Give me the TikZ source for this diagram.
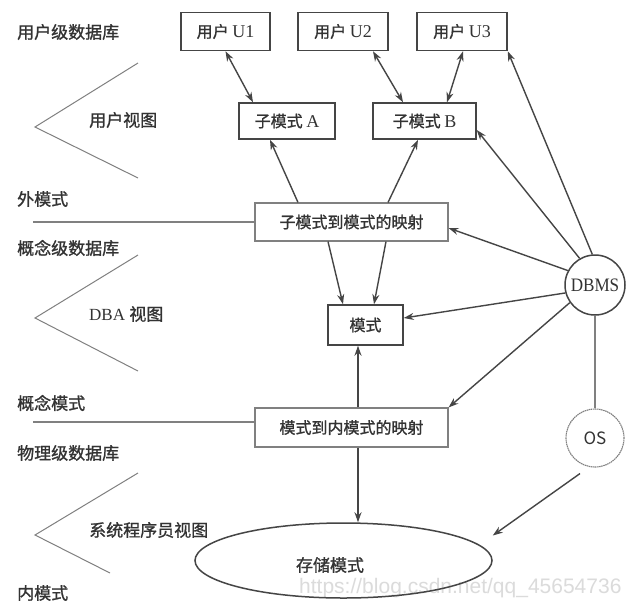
\documentclass[tikz,border=0pt]{standalone}
\usepackage{fontspec}
\setmainfont{Liberation Serif}
\newfontfamily\zh[FakeBold=1.2]{Noto Sans CJK SC}
\newfontfamily\zhr{Noto Sans CJK SC}
\newfontfamily\wm{Liberation Sans}
\usetikzlibrary{arrows.meta,calc,shapes.geometric}
\definecolor{ink}{HTML}{333333}
\definecolor{ln}{HTML}{454545}
\definecolor{lite}{HTML}{808080}
\newcommand{\lat}[1]{{\rmfamily\fontsize{18}{20}\selectfont #1}}
\begin{document}
\begin{tikzpicture}[x=1pt,y=-1pt,
  every node/.style={text=ink,font=\zh\fontsize{16}{18}\selectfont},
  boxn/.style={draw=ln,line width=1.5pt,rectangle,inner sep=0pt,minimum height=38pt},
  mapn/.style={draw=lite,line width=1.1pt,rectangle,inner sep=0pt,minimum width=193pt,minimum height=38pt},
  lbl/.style={anchor=west,inner sep=0pt,font=\zh\fontsize{17}{19}\selectfont},
  arr/.style={draw=ln,line width=1.4pt,-{Stealth[length=10pt,width=7pt]}},
  darr/.style={draw=ln,line width=1.4pt,{Stealth[length=10pt,width=7pt]}-{Stealth[length=10pt,width=7pt]}},
  chev/.style={draw=lite,line width=1pt},
  sep/.style={draw=lite,line width=1.1pt}]
\useasboundingbox[fill=white] (0,0) rectangle (640,614);

% watermark
\node[text=black!14,font=\wm\fontsize{21}{23}\selectfont,anchor=west,inner sep=0pt] (wmk) at (299,588) {https://blog.csdn.net/qq\_45654736};

% top boxes
\node[boxn,minimum width=89pt] (U1) at (225.5,31.5) {用户 \lat{U1}};
\node[boxn,minimum width=90pt] (U2) at (343,31.5) {用户 \lat{U2}};
\node[boxn,minimum width=90pt] (U3) at (462,31.5) {用户 \lat{U3}};
\node[boxn,minimum width=96pt,minimum height=36pt] (A) at (287,121) {子模式 \lat{A}};
\node[boxn,minimum width=103pt,minimum height=36pt] (B) at (424.5,121) {子模式 \lat{B}};
\node[mapn] (M1) at (351.5,222) {子模式到模式的映射};
\node[boxn,minimum width=75pt,minimum height=40pt] (P) at (365.5,325) {模式};
\node[mapn,minimum height=39pt] (M2) at (351.5,427.5) {模式到内模式的映射};
\node[draw=ln,line width=1.5pt,ellipse,minimum width=297pt,minimum height=75pt,inner sep=0pt] (E) at (343.5,560.5) {};
\node[inner sep=0pt,font=\zh\fontsize{17}{19}\selectfont] (Et) at (330,565) {存储模式};
\node[draw=ln,line width=1.5pt,circle,minimum size=60pt,inner sep=0pt,font=\rmfamily\fontsize{19}{21}\selectfont] (D) at (595,285) {\scalebox{0.9}[1]{DBMS}};
\node[draw=lite,line width=1.1pt,dash pattern=on 1.5pt off 0.6pt,circle,minimum size=58pt,inner sep=0pt,font=\zhr\fontsize{17}{19}\selectfont] (OS) at (595,438) {OS};

% left labels
\node[lbl] (l1) at (17,32) {用户级数据库};
\node[lbl] (l2) at (89,120) {用户视图};
\node[lbl] (l3) at (17,199) {外模式};
\node[lbl] (l4) at (17,248) {概念级数据库};
\node[lbl] (l5) at (89,314) {\rmfamily DBA \zh 视图};
\node[lbl] (l6) at (17,403) {概念模式};
\node[lbl] (l7) at (17,453) {物理级数据库};
\node[lbl] (l8) at (89,530) {系统程序员视图};
\node[lbl] (l9) at (17,593) {内模式};

% chevrons
\draw[chev] (138,63) -- (35,127) -- (138,178);
\draw[chev] (138,255) -- (35,318) -- (138,371);
\draw[chev] (138,473) -- (35,535) -- (110,573);

% separator lines
\coordinate (s1) at (33,222);
\coordinate (s2) at (33,422);
\draw[sep] (s1) -- (M1.west);
\draw[sep] (s2) -- ($(M2.west)+(0,-5.5)$);

% arrows top
\draw[darr] (U1.south) -- ($(A.north)+(-34,0)$);
\draw[darr] ($(U2.south)+(30,0)$) -- ($(B.north)+(-21.5,0)$);
\draw[darr] ($(U3.south)+(1,0)$) -- ($(B.north)+(22.5,0)$);
\draw[arr] ($(M1.north)+(-53.5,0)$) -- ($(A.south)+(-17,0)$);
\draw[arr] ($(M1.north)+(36.5,0)$) -- ($(B.south)+(-6.5,0)$);
\draw[arr] ($(M1.south)+(-23.5,0)$) -- ($(P.north)+(-22.5,0)$);
\draw[arr] ($(M1.south)+(34.5,0)$) -- ($(P.north)+(8.5,0)$);

% DBMS arrows
\draw[arr] (D.95) -- (U3.south east);
\draw[arr] (D.120) -- ($(B.east)+(0,9)$);
\draw[arr] (D.152) -- ($(M1.east)+(0,6)$);
\draw[arr] (D.195) -- ($(P.east)+(0,-7)$);
\draw[arr] (D.215) -- (M2.north east);
\draw[draw=lite,line width=1.3pt] (D.south) -- (OS.north);
\draw[arr] ($(OS.south)+(-15,6)$) -- ($(E.east)+(0,-25)$);

% lower arrows
\draw[arr] ($(M2.north)+(6.5,0)$) -- ($(P.south)+(-7.5,0)$);
\draw[arr] ($(M2.south)+(6.5,0)$) -- ($(E.north)+(14.5,0)$);
\end{tikzpicture}
\end{document}
